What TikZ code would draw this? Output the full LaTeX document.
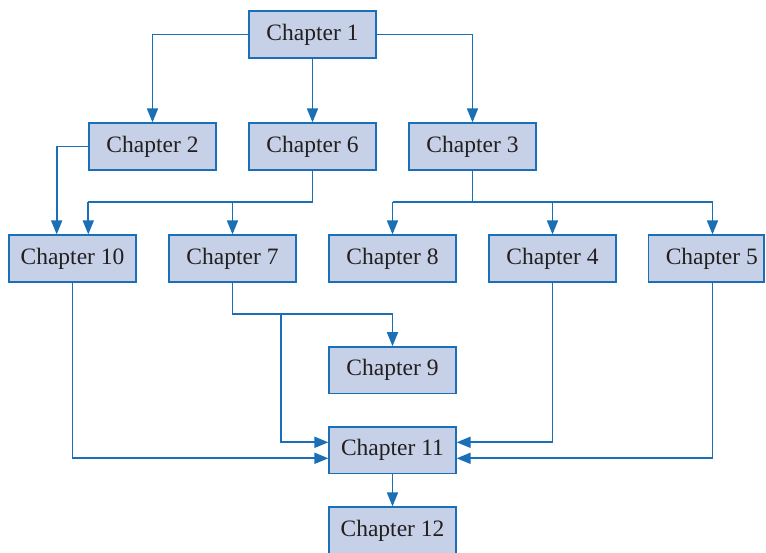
\documentclass[tikz,border=0pt]{standalone}
\usepackage{fontspec}
\setmainfont{Liberation Serif}
\usetikzlibrary{arrows.meta}
\definecolor{boxfill}{HTML}{C6D1E8}
\definecolor{boxline}{HTML}{1B6FB6}
\definecolor{txt}{HTML}{231F20}
\begin{document}
\begin{tikzpicture}[x=1pt,y=-1pt,
  chap/.style={draw=boxline, fill=boxfill, line width=1.7pt, minimum width=126.5pt, minimum height=46.5pt,
    inner sep=0pt, text=txt, font=\fontsize{23.5}{28}\selectfont},
  link/.style={draw=boxline, line width=1.7pt},
  arr/.style={link, -{Triangle[length=14pt,width=11pt]}}]
\useasboundingbox (0,0) rectangle (766,552);
\clip (0,0) rectangle (766,552);
\node[chap] (c1) at (312.5,34.5) {Chapter 1};
\node[chap] (c2) at (152.5,146.5) {Chapter 2};
\node[chap] (c6) at (312.5,146.5) {Chapter 6};
\node[chap] (c3) at (472.5,146.5) {Chapter 3};
\node[chap] (c10) at (72.5,258.5) {Chapter 10};
\node[chap] (c7) at (232.5,258.5) {Chapter 7};
\node[chap] (c8) at (392.5,258.5) {Chapter 8};
\node[chap] (c4) at (552.5,258.5) {Chapter 4};
\node[chap, minimum width=115.5pt] (c5) at (706.3,258.5) {\hspace*{11pt}Chapter 5};
\node[chap] (c9) at (392.5,370.3) {Chapter 9};
\node[chap] (c11) at (392.5,450.3) {Chapter 11};
\node[chap] (c12) at (392.5,530.5) {Chapter 12};
% Chapter 1 fan-out
\draw[arr] (c1.west) -| (c2.north);
\draw[arr] (c1.south) -- (c6.north);
\draw[arr] (c1.east) -| (c3.north);
% Chapter 2 to 10
\coordinate (j2) at (56.7,146.5);
\draw[arr] (c2.west) -- (j2) -- (j2 |- c10.north);
% Chapter 6 to 10 and 7
\coordinate (b6) at (312.5,202.3);
\coordinate (b6l) at (88.3,202.3);
\draw[link] (c6.south) -- (b6) -- (b6l);
\draw[arr] (b6l) -- (b6l |- c10.north);
\draw[arr] (c7.north |- b6) -- (c7.north);
% Chapter 3 to 8, 4, 5
\coordinate (b3) at (472.5,202.3);
\coordinate (b3l) at (392.5,202.3);
\coordinate (b3r) at (712.5,202.3);
\draw[link] (c3.south) -- (b3);
\draw[link] (b3l) -- (b3r);
\draw[arr] (b3l) -- (c8.north);
\draw[arr] (c4.north |- b3) -- (c4.north);
\draw[arr] (b3r) -- (b3r |- c5.north);
% Chapter 7 to 9 and 11
\coordinate (b7) at (232.5,314.3);
\coordinate (b7r) at (392.5,314.3);
\coordinate (j7) at (280.7,314.3);
\draw[link] (c7.south) -- (b7) -- (b7r);
\draw[arr] (b7r) -- (c9.north);
\coordinate (in11a) at (392.5,442.3);
\coordinate (in11b) at (392.5,458.3);
\draw[arr] (j7) |- (c11.west |- in11a);
% Chapter 10 to 11
\draw[arr] (c10.south) |- (c11.west |- in11b);
% Chapter 4 and 5 to 11
\draw[arr] (c4.south) |- (c11.east |- in11a);
\coordinate (c5b) at (712.5,282.5);
\draw[arr] (c5b) |- (c11.east |- in11b);
% Chapter 11 to 12
\draw[arr] (c11.south) -- (c12.north);
\end{tikzpicture}
\end{document}
